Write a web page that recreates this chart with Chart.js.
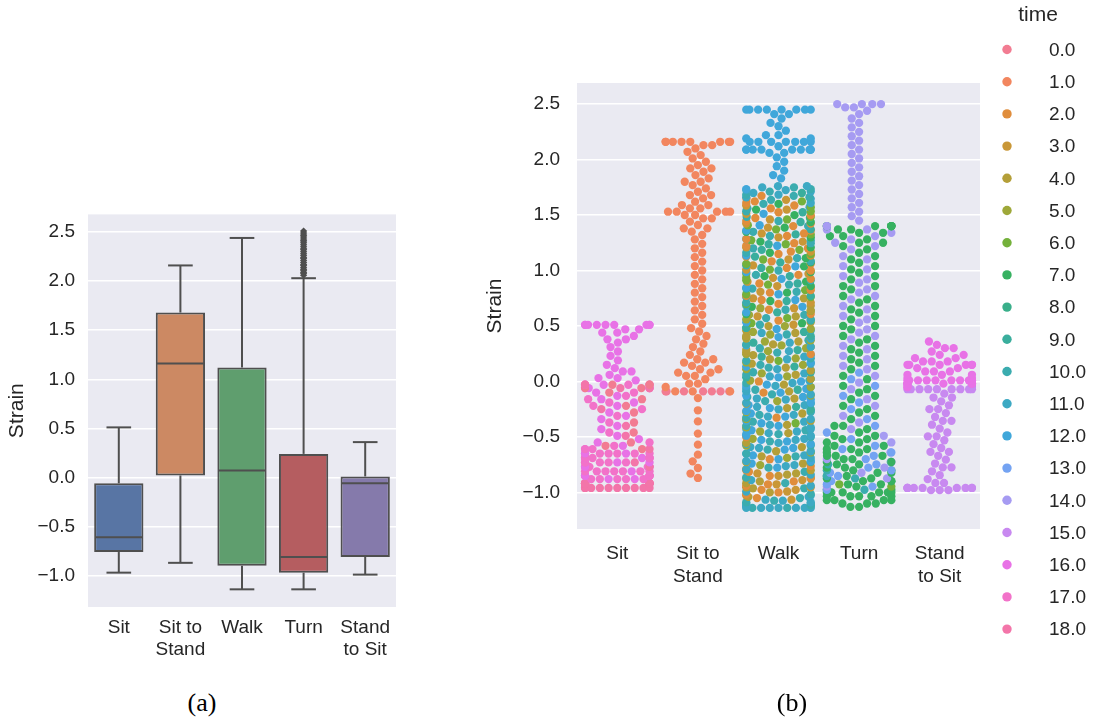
<!DOCTYPE html>
<html>
<head>
<meta charset="utf-8">
<script src="https://cdn.jsdelivr.net/npm/chart.js@4.4.0/dist/chart.umd.min.js"></script>
<style>
  html, body { margin: 0; padding: 0; background: #fff; overflow: hidden; }
  body { width: 1095px; height: 719px; position: relative; }
  canvas { position: absolute; }
  #boxCanvas { left: 0; top: 190px; }
  #swarmCanvas { left: 480px; top: 0; }
  .caption { position: absolute; top: 688px; font-family: "Liberation Serif", "DejaVu Serif", serif;
             font-size: 26px; color: #000; transform: translateX(-50%); }
</style>
</head>
<body>
<canvas id="boxCanvas" width="410" height="480"></canvas>
<canvas id="swarmCanvas" width="615" height="719"></canvas>
<div class="caption" style="left:202px">(a)</div>
<div class="caption" style="left:792px">(b)</div>
<script>
var categories = ['Sit', 'Sit to Stand', 'Walk', 'Turn', 'Stand to Sit'];
var tickLines = [['Sit'], ['Sit to', 'Stand'], ['Walk'], ['Turn'], ['Stand', 'to Sit']];
var yTicks = [-1.0, -0.5, 0.0, 0.5, 1.0, 1.5, 2.0, 2.5];

// (a) box plot statistics
var whiskerLow = [-0.97, -0.87, -1.14, -1.14, -0.99];
var q1 = [-0.76, 0.02, -0.90, -0.97, -0.81];
var median = [-0.61, 1.16, 0.07, -0.81, -0.06];
var q3 = [-0.06, 1.68, 1.12, 0.24, 0.01];
var whiskerHigh = [0.51, 2.16, 2.44, 2.03, 0.36];
var turnOutliers = [2.06, 2.08, 2.09, 2.11, 2.12, 2.14, 2.16, 2.17, 2.19, 2.21, 2.23, 2.24, 2.26,
  2.28, 2.30, 2.32, 2.33, 2.35, 2.37, 2.39, 2.41, 2.42, 2.44, 2.46, 2.47, 2.49, 2.51];
var boxColors = ['#5875a4', '#cc8963', '#5f9e6e', '#b55d60', '#857aab'];

// (b) swarm: hue = time
var timeLabels = ['0.0', '1.0', '2.0', '3.0', '4.0', '5.0', '6.0', '7.0', '8.0', '9.0',
  '10.0', '11.0', '12.0', '13.0', '14.0', '15.0', '16.0', '17.0', '18.0'];
var timeColors = ['#f27c92', '#f2865f', '#e08d3c', '#c99737', '#b49f38', '#9ea839', '#74b13b',
  '#37b161', '#39af8a', '#3aae9d', '#3bacaf', '#3da9c3', '#40a7da', '#74a3f2', '#a69bf2',
  '#c889f0', '#e872e6', '#f272c9', '#f375a9'];

// rows: [strain, time of each point at that strain] (time digits 0-9, a=10 ... i=18)
var sitRows = [
  [0.51, 'ggggggggg'], [0.47, 'gg'], [0.44, 'gg'], [0.41, 'g'], [0.38, 'gg'], [0.35, 'g'],
  [0.31, 'g'], [0.27, 'g'], [0.23, 'g'], [0.19, 'g'], [0.15, 'g'], [0.12, 'g'], [0.09, 'gg'],
  [0.06, 'g'], [0.03, 'gg'], [0.01, 'g'],
  [-0.03, '0hghgh0i0'], [-0.06, 'i0ghgh0i'],
  [-0.10, '0hg'], [-0.13, 'gh'], [-0.16, 'g0h'], [-0.19, 'hg'], [-0.22, 'g0h'], [-0.25, 'ih'],
  [-0.28, 'g0'], [-0.31, 'hg'], [-0.34, 'g'], [-0.37, 'h0'], [-0.40, 'gi'], [-0.43, 'g'],
  [-0.46, 'h0'], [-0.49, 'gi'], [-0.52, 'g'], [-0.55, '0gh'], [-0.58, 'hg0'], [-0.61, 'h0gih'],
  [-0.65, 'hhghhihg'], [-0.69, 'hghhghhh'], [-0.73, 'ghhhihgh'], [-0.77, 'hhghhhgi'],
  [-0.81, 'hhhghhhh'], [-0.85, 'ghhhhhgh'], [-0.88, 'hghhghh'],
  [-0.92, 'iiiiiiiiii'], [-0.96, 'iiiiiiiiii']
];
var sitToStandRows = [
  [2.16, '11111111'], [2.13, '11'], [2.10, '1'], [2.07, '1'], [2.04, '1'], [2.01, '1'],
  [1.98, '1'], [1.95, '1'], [1.92, '11'], [1.89, '1'], [1.86, '1'], [1.83, '1'], [1.80, '11'],
  [1.77, '1'], [1.74, '1'], [1.71, '1'], [1.68, '11'], [1.65, '1'], [1.62, '1'], [1.59, '11'],
  [1.56, '11'], [1.53, '11111'], [1.50, '11'], [1.47, '11'], [1.44, '1'], [1.41, '1'],
  [1.38, '11'], [1.35, '1'], [1.32, '1'], [1.28, '1'], [1.24, '1'], [1.20, '1'], [1.16, '1'],
  [1.12, '1'], [1.08, '1'], [1.04, '1'], [1.00, '1'], [0.96, '1'], [0.92, '1'], [0.88, '1'],
  [0.84, '1'], [0.80, '1'], [0.76, '1'], [0.72, '1'], [0.68, '1'], [0.64, '1'], [0.60, '1'],
  [0.56, '1'], [0.52, '1'], [0.48, '1'], [0.45, '1'], [0.41, '1'], [0.38, '1'], [0.34, '1'],
  [0.31, '1'], [0.27, '1'], [0.24, '1'], [0.20, '11'], [0.17, '11'], [0.14, '1'], [0.11, '11'],
  [0.08, '11'], [0.05, '11'], [0.02, '1'], [-0.02, '11'], [-0.05, '1'], [-0.09, '1000100001'],
  [-0.15, '1'], [-0.26, '1'], [-0.36, '1'], [-0.47, '1'], [-0.57, '1'], [-0.66, '1'],
  [-0.72, '1'], [-0.78, '1'], [-0.83, '1'], [-0.87, '1']
];
var walkRows = [
  [2.45, 'cccccccc'], [2.41, 'cc'], [2.37, 'c'], [2.33, 'c'], [2.30, 'c'], [2.26, 'c'],
  [2.22, 'cc'], [2.19, 'cc'], [2.16, 'ccccccc'], [2.12, 'c'], [2.09, 'ccccccccc'], [2.06, 'cc'],
  [2.02, 'c'], [1.98, 'c'], [1.94, 'c'], [1.90, 'c'], [1.86, 'c'], [1.83, 'c'],
  [1.760, 'bb'], [1.749, 'ab'], [1.734, 'ca'], [1.725, 'bb'], [1.711, 'ab'], [1.699, '9b'], [1.683, 'ba'], [1.673, 'a2'],
  [1.660, 'ab'], [1.646, '2b'], [1.637, 'a3'], [1.623, '62'], [1.608, 'b2'], [1.600, '7a'], [1.586, '23'], [1.571, 'b6'],
  [1.560, '2a'], [1.549, '37'], [1.534, '6a'], [1.525, '29'], [1.511, 'c3'], [1.499, '72'], [1.483, 'a6'], [1.473, '28'],
  [1.460, '36'], [1.446, 'a2'], [1.437, '97'], [1.423, '23'], [1.408, 'c6'], [1.400, '2a'], [1.386, '73'], [1.371, '69'],
  [1.360, '2c'], [1.349, 'a7'], [1.334, '32'], [1.325, '96'], [1.311, '2a'], [1.299, '37'], [1.283, 'c2'], [1.273, '6a'],
  [1.260, '73'], [1.246, '2a'], [1.237, '69'], [1.223, 'c2'], [1.208, '37'], [1.200, 'a2'], [1.186, '96'], [1.171, '23'],
  [1.160, '7a'], [1.149, '26'], [1.134, '3c'], [1.125, '92'], [1.111, 'a7'], [1.099, '36'], [1.083, '2a'], [1.073, '97'],
  [1.060, '26'], [1.046, '3a'], [1.037, 'c7'], [1.023, '29'], [1.008, '63'], [1.000, 'a2'], [0.986, '7c'], [0.971, '36'],
  [0.960, '2a'], [0.949, '97'], [0.934, '36'], [0.925, 'c2'], [0.911, 'a6'], [0.899, '73'], [0.883, '29'], [0.873, '6a'],
  [0.860, '37'], [0.846, '2c'], [0.837, 'a9'], [0.823, '62'], [0.808, '3a'], [0.800, '27'], [0.786, 'c6'], [0.771, '92'],
  [0.760, '6a'], [0.749, '34'], [0.734, '2c'], [0.725, '79'], [0.711, 'a3'], [0.699, '26'], [0.683, '4a'], [0.673, 'c7'],
  [0.660, '35'], [0.646, 'a2'], [0.637, '64'], [0.623, '9c'], [0.608, '27'], [0.600, 'a5'], [0.586, '43'], [0.571, '6a'],
  [0.560, '5a'], [0.549, '29'], [0.534, '4c'], [0.525, '76'], [0.511, '3a'], [0.499, '54'], [0.483, 'a9'], [0.473, 'c5'],
  [0.460, '4a'], [0.446, '59'], [0.437, 'b4'], [0.423, '5a'], [0.408, '49'], [0.400, 'c5'], [0.386, '4b'], [0.371, 'a5'],
  [0.360, '54'], [0.349, 'b9'], [0.334, '4a'], [0.325, '5c'], [0.311, '4b'], [0.299, 'a5'], [0.283, '94'], [0.273, '5b'],
  [0.260, 'a4'], [0.246, '52'], [0.237, '4c'], [0.223, '9b'], [0.208, '5a'], [0.200, '4b'], [0.186, '6a'], [0.171, 'c5'],
  [0.160, '4b'], [0.149, 'a5'], [0.134, '9c'], [0.125, '4a'], [0.111, 'b5'], [0.099, 'c4'], [0.083, 'a9'], [0.073, '5b'],
  [0.060, '4a'], [0.046, 'b5'], [0.037, 'c9'], [0.023, 'a4'], [0.008, '5b'], [0.000, '2c'], [-0.014, 'ba'], [-0.029, '4c'],
  [-0.040, 'bc'], [-0.051, 'a5'], [-0.066, 'cb'], [-0.075, '9a'], [-0.089, '4b'], [-0.101, 'c2'], [-0.117, 'ab'], [-0.127, '5c'],
  [-0.140, 'ca'], [-0.154, '4b'], [-0.163, 'bc'], [-0.177, '5a'], [-0.192, 'cb'], [-0.200, 'a4'], [-0.214, 'bc'], [-0.229, '9b'],
  [-0.240, 'c4'], [-0.251, 'b9'], [-0.266, 'ac'], [-0.275, 'b5'], [-0.289, '4c'], [-0.301, 'ba'], [-0.317, 'cb'], [-0.327, '2a'],
  [-0.340, '5b'], [-0.354, 'c4'], [-0.363, 'ab'], [-0.377, 'c6'], [-0.392, 'b4'], [-0.400, 'ca'], [-0.414, '5b'], [-0.429, 'cb'],
  [-0.440, 'ca'], [-0.451, '5b'], [-0.466, 'b4'], [-0.475, 'ac'], [-0.489, 'cb'], [-0.501, '2a'], [-0.517, '5b'], [-0.527, 'cb'],
  [-0.540, 'ac'], [-0.554, 'b4'], [-0.563, 'bc'], [-0.577, '5a'], [-0.592, '4b'], [-0.600, 'cb'], [-0.614, 'ca'], [-0.629, '4b'],
  [-0.640, 'b5'], [-0.651, 'ca'], [-0.666, 'cb'], [-0.675, '4a'], [-0.689, '5b'], [-0.701, 'c2'], [-0.717, 'bc'], [-0.727, 'a4'],
  [-0.740, '4c'], [-0.754, 'b5'], [-0.763, 'b2'], [-0.777, 'ca'], [-0.792, '3b'], [-0.800, '42'], [-0.814, 'a2'], [-0.829, '43'],
  [-0.840, '4b'], [-0.851, '32'], [-0.866, '2a'], [-0.875, '34'], [-0.889, '3b'], [-0.901, '24'], [-0.917, 'a4'], [-0.927, '32'],
  [-0.940, '2b'], [-0.954, '43'], [-0.963, '4a'], [-0.977, '23'], [-0.992, '3b'], [-1.000, '24'], [-1.014, '2a'], [-1.029, '3b'],
  [-1.040, '4b'], [-1.051, '2a'], [-1.066, 'b3'], [-1.075, 'ab'], [-1.089, 'ab'], [-1.101, 'ba'], [-1.117, 'ba'], [-1.127, 'bb'],
  [-1.140, 'bbabbabbb']
];
var turnRows = [
  [2.50, 'eeee'], [2.47, 'ee'], [2.44, 'e'], [2.41, 'e'], [2.37, 'e'], [2.33, 'e'], [2.29, 'e'],
  [2.25, 'e'], [2.21, 'e'], [2.17, 'e'], [2.13, 'e'], [2.09, 'e'], [2.05, 'e'], [2.01, 'e'],
  [1.97, 'e'], [1.93, 'e'], [1.89, 'e'], [1.85, 'e'], [1.81, 'e'], [1.77, 'e'], [1.73, 'e'],
  [1.69, 'e'], [1.65, 'e'], [1.61, 'e'], [1.57, 'e'], [1.53, 'e'], [1.49, 'e'], [1.45, 'e'],
  [1.40, '777777e7e7'], [1.37, '7e7e'], [1.34, '77e'], [1.31, '7e7'], [1.28, 'e7'], [1.25, '7e7'],
  [1.22, '7e'], [1.19, 'e7'], [1.16, '7'], [1.13, 'e7'], [1.10, '7e'], [1.07, '7'], [1.04, 'e7'],
  [1.01, '7e'], [0.98, '7'], [0.95, 'e7'], [0.92, '7e'], [0.89, 'e'], [0.86, '77'], [0.83, '7e'],
  [0.80, 'e'], [0.77, '7e'], [0.74, 'e7'], [0.71, '7'], [0.68, 'e7'], [0.65, '7e'], [0.62, '7'],
  [0.59, 'e7'], [0.56, '7e'], [0.53, 'e'], [0.50, '77'], [0.47, '7e'], [0.44, 'e'], [0.41, '7e'],
  [0.38, 'e7'], [0.35, '7'], [0.32, 'e7'], [0.29, '7e'], [0.26, '7'], [0.23, 'e7'], [0.20, '7e'],
  [0.17, '7'], [0.14, 'e7'], [0.11, '7e'], [0.08, 'd'], [0.05, '7e'], [0.02, 'd7'], [-0.01, 'e'],
  [-0.04, '7d'], [-0.07, 'e7'], [-0.10, '7'], [-0.13, 'd7'], [-0.16, '7e'], [-0.19, 'd'],
  [-0.22, '7e'], [-0.25, 'd7'], [-0.28, '7'], [-0.31, 'e7'], [-0.34, '7d'], [-0.37, 'e'],
  [-0.40, '7d7'], [-0.43, 'e7'], [-0.46, '7d'], [-0.49, '77e'], [-0.52, 'd77'], [-0.55, '7e7'],
  [-0.58, 'd77'], [-0.61, '77d7'], [-0.64, '7e7d'], [-0.67, 'd777'],
  [-0.700, '7d7e'], [-0.726, 'a7e7'], [-0.748, '7d7a'], [-0.777, 'd7e7'], [-0.801, '7a7d'],
  [-0.823, 'e7d7'], [-0.852, '7d7a'], [-0.874, 'a7e7'], [-0.899, '7d77'], [-0.927, '767d'],
  [-0.948, '7d6e'], [-0.976, 'a7d7'],
  [-1.00, '777777'], [-1.035, '77777'], [-1.07, '7777'], [-1.10, '777'], [-1.13, '77']
];
var standToSitRows = [
  [0.36, 'g'], [0.33, 'g'], [0.30, 'gg'], [0.27, 'g'], [0.24, 'gg'], [0.21, 'gg'],
  [0.18, 'ggg'], [0.15, 'gggggg'], [0.12, 'gg'], [0.09, 'ggg'], [0.06, 'ggg'], [0.03, 'gg'],
  [0.01, 'ggggggggg'], [-0.02, 'gggfggggg'], [-0.05, 'gfgf'], [-0.07, 'fffffffff'],
  [-0.11, 'f'], [-0.145, 'ff'], [-0.18, 'f'], [-0.215, 'f'], [-0.25, 'ff'], [-0.285, 'f'],
  [-0.32, 'f'], [-0.355, 'ff'], [-0.39, 'f'], [-0.425, 'f'], [-0.46, 'f'], [-0.495, 'ff'],
  [-0.53, 'f'], [-0.565, 'f'], [-0.60, 'f'], [-0.635, 'ff'], [-0.67, 'f'], [-0.705, 'f'],
  [-0.74, 'f'], [-0.775, 'ff'], [-0.81, 'f'], [-0.845, 'f'], [-0.88, 'f'], [-0.915, 'ff'],
  [-0.96, 'fffffffff'], [-0.98, 'fff']
];

var textColor = '#262626';
var edgeColor = '#4f4f4f';
var dotRadius = 4.15;

Chart.defaults.font.family = '"Liberation Sans", Arial, sans-serif';
Chart.defaults.color = textColor;

function fmtTick(v) {
  return v.toFixed(1).replace('-', '\u2212');
}

// grey plot panel like seaborn darkgrid
var plotBackground = {
  id: 'plotBackground',
  beforeDraw: function (chart) {
    var a = chart.chartArea, ctx = chart.ctx;
    ctx.save();
    ctx.fillStyle = '#eaeaf2';
    ctx.fillRect(a.left, a.top, a.right - a.left, a.bottom - a.top);
    ctx.restore();
  }
};

// whiskers, caps and medians on top of the floating bars
var boxParts = {
  id: 'boxParts',
  afterDatasetsDraw: function (chart) {
    var ctx = chart.ctx, ys = chart.scales.y;
    var bars = chart.getDatasetMeta(0).data;
    ctx.save();
    ctx.strokeStyle = edgeColor;
    ctx.lineWidth = 2;
    function seg(x1, y1, x2, y2) {
      ctx.beginPath(); ctx.moveTo(x1, y1); ctx.lineTo(x2, y2); ctx.stroke();
    }
    categories.forEach(function (c, i) {
      var x = bars[i].x, half = bars[i].width / 2;
      var yHi = ys.getPixelForValue(whiskerHigh[i]);
      var yLo = ys.getPixelForValue(whiskerLow[i]);
      seg(x, ys.getPixelForValue(q3[i]), x, yHi);
      seg(x, ys.getPixelForValue(q1[i]), x, yLo);
      seg(x - half / 2, yHi, x + half / 2, yHi);
      seg(x - half / 2, yLo, x + half / 2, yLo);
      var yMed = ys.getPixelForValue(median[i]);
      seg(x - half + 1, yMed, x + half - 1, yMed);
    });
    ctx.restore();
  }
};

var boxChart = new Chart(document.getElementById('boxCanvas'), {
  type: 'bar',
  data: {
    labels: categories,
    datasets: [{
      data: categories.map(function (c, i) { return [q1[i], q3[i]]; }),
      backgroundColor: boxColors,
      borderColor: edgeColor,
      borderWidth: 2,
      borderSkipped: false,
      barPercentage: 0.8,
      categoryPercentage: 1.0,
      order: 2
    }, {
      type: 'line',
      data: turnOutliers.map(function (v) { return { x: 'Turn', y: v }; }),
      showLine: false,
      pointStyle: 'rectRot',
      pointRadius: 3.6,
      pointBackgroundColor: edgeColor,
      pointBorderWidth: 0,
      order: 1
    }]
  },
  options: {
    responsive: false,
    devicePixelRatio: 1,
    animation: false,
    events: [],
    layout: { padding: { top: 20, right: 14, bottom: 10, left: 0 } },
    plugins: { legend: { display: false }, tooltip: { enabled: false } },
    scales: {
      x: {
        type: 'category',
        grid: { display: false, drawTicks: false },
        border: { display: false },
        ticks: {
          padding: 10,
          maxRotation: 0,
          autoSkip: false,
          font: { size: 19, lineHeight: 1.15 },
          callback: function (v, i) { return tickLines[i]; }
        },
        afterFit: function (s) { s.height = 53; }
      },
      y: {
        min: -1.32,
        max: 2.68,
        afterBuildTicks: function (s) { s.ticks = yTicks.map(function (v) { return { value: v }; }); },
        grid: { color: '#ffffff', lineWidth: 1.5, drawTicks: false },
        border: { display: false },
        ticks: { padding: 13, font: { size: 19 }, callback: fmtTick },
        title: { display: true, text: 'Strain', font: { size: 21 }, padding: { top: 5, bottom: 0 } },
        afterFit: function (s) { s.width = 88; }
      }
    }
  },
  plugins: [plotBackground, boxParts]
});

// seaborn-style beeswarm, in pixels: nearest free slot to the centre line, then gutters
function beeswarm(ys, d, gutter) {
  var placed = [];
  ys.forEach(function (y) {
    var near = placed.filter(function (p) { return Math.abs(p.y - y) < d; });
    var cands = [0];
    near.forEach(function (p) {
      var dy = y - p.y;
      var dx = Math.sqrt(Math.max(d * d - dy * dy, 0)) * 1.05;
      cands.push(p.x - dx, p.x + dx);
    });
    cands.sort(function (a, b) { return Math.abs(a) - Math.abs(b); });
    var x = cands[cands.length - 1];
    for (var k = 0; k < cands.length; k++) {
      var ok = near.every(function (p) {
        var ex = cands[k] - p.x, ey = y - p.y;
        return ex * ex + ey * ey >= d * d * 0.999;
      });
      if (ok) { x = cands[k]; break; }
    }
    placed.push({ x: x, y: y });
  });
  return placed.map(function (p) { return Math.max(-gutter, Math.min(gutter, p.x)); });
}

function buildPoints(rows, idx) {
  var pts = [];
  rows.forEach(function (r) {
    for (var k = 0; k < r[1].length; k++) {
      pts.push({ x: idx, y: r[0], t: parseInt(r[1][k], 19) });
    }
  });
  pts.sort(function (a, b) { return a.y - b.y; });
  return pts;
}

var swarmSets = [sitRows, sitToStandRows, walkRows, turnRows, standToSitRows].map(function (rows, i) {
  var pts = buildPoints(rows, i);
  return {
    label: categories[i],
    data: pts,
    pointBackgroundColor: pts.map(function (p) { return timeColors[p.t]; }),
    pointBorderWidth: 0,
    pointRadius: dotRadius,
    pointHoverRadius: dotRadius
  };
});

// hue legend drawn on the right of panel (b)
var timeLegend = {
  id: 'timeLegend',
  afterDraw: function (chart) {
    var ctx = chart.ctx;
    ctx.save();
    ctx.fillStyle = textColor;
    ctx.textBaseline = 'middle';
    ctx.textAlign = 'center';
    ctx.font = '21px "Liberation Sans", Arial, sans-serif';
    ctx.fillText('time', 558, 15);
    ctx.textAlign = 'left';
    ctx.font = '19px "Liberation Sans", Arial, sans-serif';
    timeLabels.forEach(function (lab, i) {
      var y = 49.5 + i * 32.2;
      ctx.beginPath();
      ctx.arc(527, y, 4.7, 0, Math.PI * 2);
      ctx.fillStyle = timeColors[i];
      ctx.fill();
      ctx.fillStyle = textColor;
      ctx.fillText(lab, 569, y + 1);
    });
    ctx.restore();
  }
};

var swarmChart = new Chart(document.getElementById('swarmCanvas'), {
  type: 'scatter',
  data: { datasets: swarmSets },
  options: {
    responsive: false,
    devicePixelRatio: 1,
    animation: false,
    events: [],
    layout: { padding: { top: 83, right: 115, bottom: 130, left: 0 } },
    plugins: { legend: { display: false }, tooltip: { enabled: false } },
    scales: {
      x: {
        type: 'linear',
        min: -0.5,
        max: 4.5,
        afterBuildTicks: function (s) { s.ticks = categories.map(function (c, i) { return { value: i }; }); },
        grid: { display: false, drawTicks: false },
        border: { display: false },
        ticks: {
          padding: 13,
          maxRotation: 0,
          autoSkip: false,
          font: { size: 19, lineHeight: 1.23 },
          callback: function (v) { return tickLines[v]; }
        },
        afterFit: function (s) { s.height = 60; }
      },
      y: {
        min: -1.33,
        max: 2.69,
        afterBuildTicks: function (s) { s.ticks = yTicks.map(function (v) { return { value: v }; }); },
        grid: { color: '#ffffff', lineWidth: 1.5, drawTicks: false },
        border: { display: false },
        ticks: { padding: 17, font: { size: 19 }, callback: fmtTick },
        title: { display: true, text: 'Strain', font: { size: 21 }, padding: { top: 3, bottom: 0 } },
        afterFit: function (s) { s.width = 97; }
      }
    }
  },
  plugins: [plotBackground, timeLegend]
});

// spread each category's points sideways using the chart's own scales
function placeSwarms(chart) {
  var xs = chart.scales.x, ys = chart.scales.y;
  var pxPerCat = xs.getPixelForValue(1) - xs.getPixelForValue(0);
  chart.data.datasets.forEach(function (ds, i) {
    var offs = beeswarm(ds.data.map(function (p) { return ys.getPixelForValue(p.y); }),
      dotRadius * 2, 0.4 * pxPerCat);
    ds.data.forEach(function (p, k) { p.x = i + offs[k] / pxPerCat; });
  });
  chart.update();
}
placeSwarms(swarmChart);
</script>
</body>
</html>
